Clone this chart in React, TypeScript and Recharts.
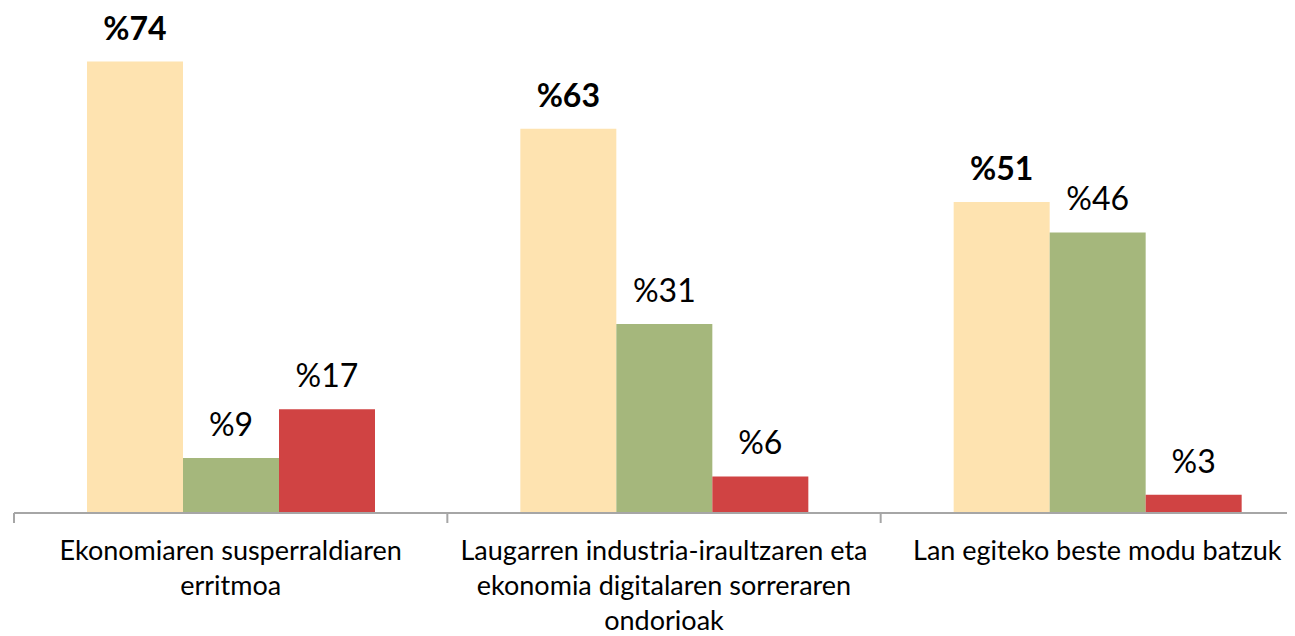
import { Bar, BarChart, LabelList, XAxis, YAxis } from "recharts";

const categories = [
  "Ekonomiaren susperraldiaren\nerritmoa",
  "Laugarren industria-iraultzaren eta\nekonomia digitalaren sorreraren\nondorioak",
  "Lan egiteko beste modu batzuk",
];
const peachValues = [74, 63, 51];
const greenValues = [9, 31, 46];
const redValues = [17, 6, 3];

const data = categories.map((name, i) => ({
  name,
  peach: peachValues[i],
  green: greenValues[i],
  red: redValues[i],
}));

const FONT = "Lato, 'Open Sans', sans-serif";
const PLOT_W = 1300;
const BAND = PLOT_W / categories.length;
const AXIS = "#a6a6a6";

function CategoryTick(props: any) {
  const { x, y, payload } = props;
  const lines = String(payload.value).split("\n");
  return (
    <g>
      <line x1={x - BAND / 2} x2={x - BAND / 2} y1={y} y2={y + 10} stroke={AXIS} strokeWidth={2} />
      {lines.map((line, i) => (
        <text
          key={i}
          x={x}
          y={y + 47 + i * 35}
          textAnchor="middle"
          fontSize={27}
          fontFamily={FONT}
          fill="#000"
        >
          {line}
        </text>
      ))}
    </g>
  );
}

const pct = (v: any) => `%${v}`;

export default function App() {
  return (
    <div style={{ width: 1287, height: 628, overflow: "hidden" }}>
      <BarChart
        width={1306}
        height={628}
        data={data}
        margin={{ top: 17, right: 0, left: 6, bottom: 8 }}
        barGap={0}
        barSize={96}
      >
        <XAxis
          dataKey="name"
          height={115}
          axisLine={{ stroke: AXIS, strokeWidth: 2 }}
          tickLine={false}
          tickSize={0}
          tickMargin={0}
          interval={0}
          tick={<CategoryTick />}
        />
        <YAxis hide domain={[0, 80]} />
        <Bar dataKey="peach" fill="#fee3b0" isAnimationActive={false}>
          <LabelList
            dataKey="peach"
            position="top"
            offset={22}
            formatter={pct}
            fill="#000"
            fontSize={32}
            fontWeight="bold"
            fontFamily={FONT}
          />
        </Bar>
        <Bar dataKey="green" fill="#a5b77c" isAnimationActive={false}>
          <LabelList
            dataKey="green"
            position="top"
            offset={22}
            formatter={pct}
            fill="#000"
            fontSize={32}
            fontFamily={FONT}
          />
        </Bar>
        <Bar dataKey="red" fill="#d04343" isAnimationActive={false}>
          <LabelList
            dataKey="red"
            position="top"
            offset={22}
            formatter={pct}
            fill="#000"
            fontSize={32}
            fontFamily={FONT}
          />
        </Bar>
      </BarChart>
    </div>
  );
}
